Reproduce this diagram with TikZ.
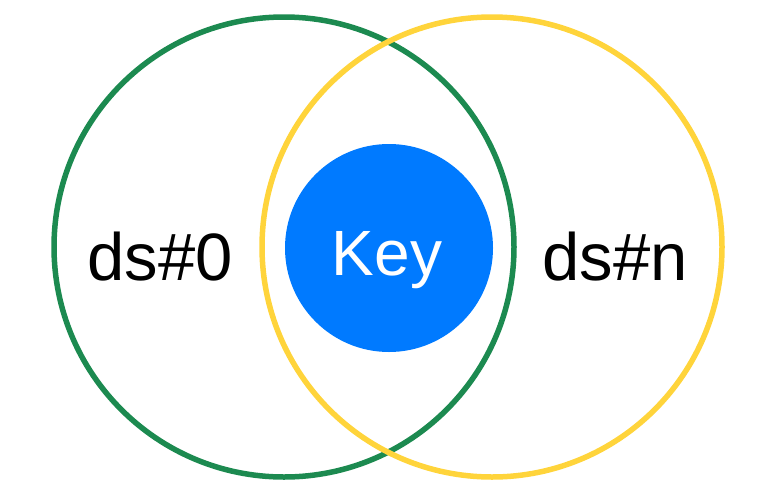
\documentclass[tikz,border=0pt]{standalone}
\usepackage{fontspec}
\setmainfont{Liberation Sans}
\definecolor{setgreen}{RGB}{28,138,80}
\definecolor{setyellow}{RGB}{255,212,59}
\definecolor{keyblue}{RGB}{0,122,255}
\begin{document}
\begin{tikzpicture}[x=1pt,y=-1pt,
  setring/.style={line width=5.5pt},
  label/.style={font=\fontsize{67}{74}\selectfont, inner sep=0pt, anchor=base}]
\useasboundingbox (0,0) rectangle (778,493);
\node[draw=setgreen, setring, circle, minimum size=460pt, inner sep=0pt] (ds0) at (284,247) {};
\node[draw=setyellow, setring, circle, minimum size=460pt, inner sep=0pt] (dsn) at (492,247) {};
\node[fill=keyblue, circle, minimum size=208pt, inner sep=0pt] (key) at (389,248) {};
\node[label, text=white, font=\fontsize{64}{70}\selectfont] (keytext) at (387,275) {Key};
\node[label] (ds0text) at (160,280) {ds\#0};
\node[label] (dsntext) at (615,280) {ds\#n};
\end{tikzpicture}
\end{document}
